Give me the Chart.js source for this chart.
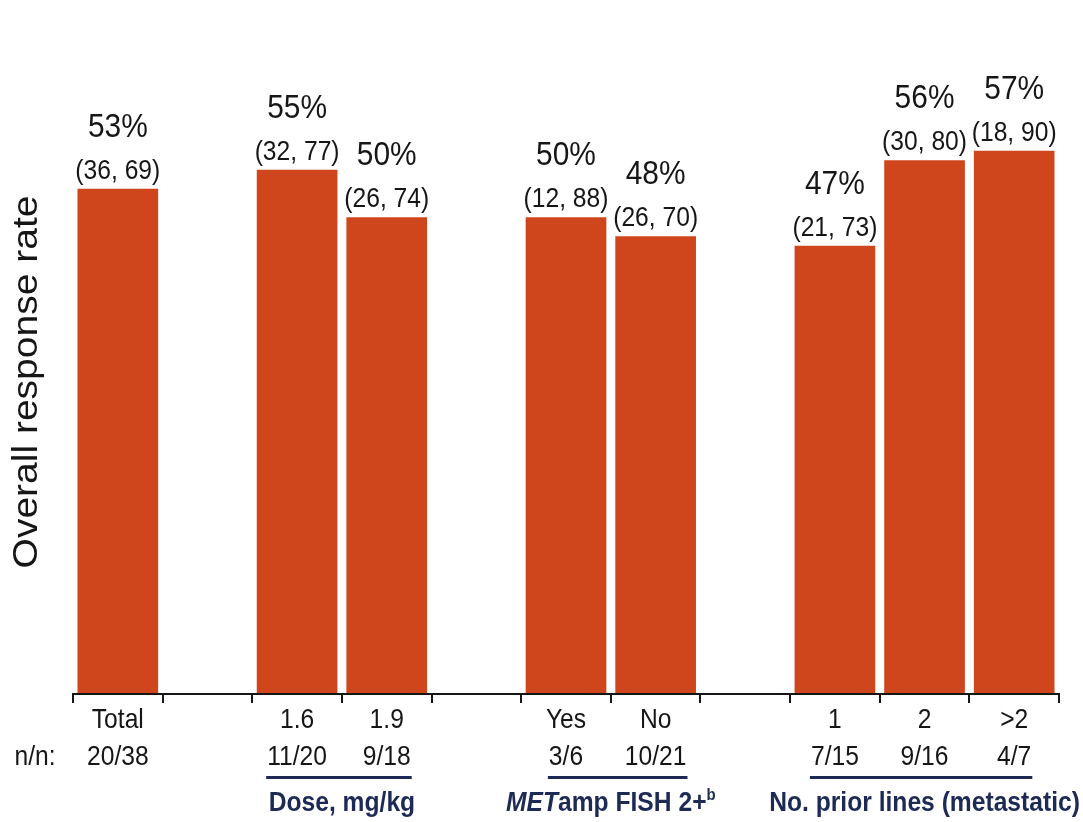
<!DOCTYPE html>
<html>
<head>
<meta charset="utf-8">
<script src="https://cdn.jsdelivr.net/npm/chart.js@4/dist/chart.umd.min.js"></script>
<style>
  html, body { margin: 0; padding: 0; background: #ffffff; }
  #wrap { width: 1083px; height: 822px; position: relative; }
</style>
</head>
<body>
<div id="wrap"><canvas id="orr" width="1083" height="822"></canvas></div>
<script>
// Subgroup categories; empty strings leave a blank slot between groups
const categories = ['Total', '', '1.6', '1.9', '', 'Yes', 'No', '', '1', '2', '>2'];
// Overall response rate, %
const responseRate = [53, null, 55, 50, null, 50, 48, null, 47, 56, 57];
// 95% CI bounds
const ciLow  = [36, null, 32, 26, null, 12, 26, null, 21, 30, 18];
const ciHigh = [69, null, 77, 74, null, 88, 70, null, 73, 80, 90];
// Responders / evaluable patients
const nLabels = ['20/38', '', '11/20', '9/18', '', '3/6', '10/21', '', '7/15', '9/16', '4/7'];
// Group captions under the axis (first / last category index)
const groupFirst = [2, 5, 8];
const groupLast  = [3, 6, 10];
const groupParts = [
  [{ t: 'Dose, mg/kg', style: 'bold' }],
  [{ t: 'MET', style: 'italic bold' }, { t: 'amp FISH 2+', style: 'bold' }, { t: 'b', style: 'bold', sup: true }],
  [{ t: 'No. prior lines (metastatic)', style: 'bold' }]
];
const yTitle = 'Overall response rate';
const rowLabel = 'n/n:';

const FONT = '"Liberation Sans", Arial, sans-serif';
const HS = 0.88;            // horizontal squeeze applied to all text
const BAR = 'rgb(208, 70, 28)';
const INK = '#161616';
const NAVY = '#1c2a55';

function txt(ctx, s, x, y, font, color, align) {
  ctx.save();
  ctx.translate(x, y);
  ctx.scale(HS, 1);
  ctx.font = font;
  ctx.fillStyle = color;
  ctx.textAlign = align || 'center';
  ctx.textBaseline = 'alphabetic';
  ctx.fillText(s, 0, 0);
  ctx.restore();
}
function width(ctx, s, font) {
  ctx.save();
  ctx.font = font;
  const w = ctx.measureText(s).width * HS;
  ctx.restore();
  return w;
}

const annotate = {
  id: 'annotate',
  afterDraw(chart) {
    const ctx = chart.ctx;
    const xs = chart.scales.x, ys = chart.scales.y;
    const area = chart.chartArea;
    const n = categories.length;
    const slot = (area.right - area.left) / n;

    // axis baseline and slot ticks
    ctx.save();
    ctx.strokeStyle = INK;
    ctx.lineWidth = 2;
    ctx.beginPath();
    ctx.moveTo(area.left, area.bottom + 1);
    ctx.lineTo(area.right, area.bottom + 1);
    for (let i = 0; i <= n; i++) {
      const x = Math.round(area.left + i * slot);
      ctx.moveTo(x, area.bottom);
      ctx.lineTo(x, area.bottom + 10);
    }
    ctx.stroke();
    ctx.restore();

    const pctFont = '34px ' + FONT;
    const ciFont = '28px ' + FONT;
    const catFont = '28px ' + FONT;

    for (let i = 0; i < n; i++) {
      const cx = xs.getPixelForValue(i);
      if (responseRate[i] != null) {
        const top = ys.getPixelForValue(responseRate[i]);
        txt(ctx, responseRate[i] + '%', cx, top - 52, pctFont, INK);
        txt(ctx, '(' + ciLow[i] + ', ' + ciHigh[i] + ')', cx, top - 10, ciFont, INK);
      }
      if (categories[i]) txt(ctx, categories[i], cx, 728, catFont, INK);
      if (nLabels[i]) txt(ctx, nLabels[i], cx, 765, catFont, INK);
    }
    txt(ctx, rowLabel, 35, 765, catFont, INK);

    // group underlines and captions
    const gFont = 28;
    for (let g = 0; g < groupFirst.length; g++) {
      const a = groupFirst[g], b = groupLast[g];
      const xa = xs.getPixelForValue(a), xb = xs.getPixelForValue(b);
      const l = xa - width(ctx, nLabels[a], catFont) / 2 - 1;
      const r = xb + width(ctx, nLabels[b], catFont) / 2 + 1;
      ctx.save();
      ctx.strokeStyle = NAVY;
      ctx.lineWidth = 3;
      ctx.beginPath();
      ctx.moveTo(l, 777.5);
      ctx.lineTo(r, 777.5);
      ctx.stroke();
      ctx.restore();

      const parts = groupParts[g].map(p => {
        const f = p.style + ' ' + (p.sup ? 17 : gFont) + 'px ' + FONT;
        return { t: p.t, f, sup: p.sup, w: width(ctx, p.t, f) };
      });
      const total = parts.reduce((s, p) => s + p.w, 0);
      let x = (xa + xb) / 2 - total / 2;
      parts.forEach(p => {
        txt(ctx, p.t, x, p.sup ? 800 : 811, p.f, NAVY, 'left');
        x += p.w;
      });
    }

    // rotated y-axis title
    ctx.save();
    ctx.scale(HS, 1);
    ctx.translate(37 / HS, 382);
    ctx.rotate(-Math.PI / 2);
    ctx.font = '39px ' + FONT;
    ctx.fillStyle = INK;
    ctx.textAlign = 'center';
    ctx.textBaseline = 'alphabetic';
    ctx.fillText(yTitle, 0, 0);
    ctx.restore();
  }
};

new Chart(document.getElementById('orr'), {
  type: 'bar',
  data: {
    labels: categories,
    datasets: [{
      data: responseRate,
      backgroundColor: BAR,
      borderWidth: 0,
      barPercentage: 0.9,
      categoryPercentage: 1.0
    }]
  },
  options: {
    responsive: false,
    devicePixelRatio: 1,
    animation: false,
    layout: { padding: { left: 73, right: 24, top: 27, bottom: 129 } },
    plugins: { legend: { display: false }, tooltip: { enabled: false } },
    scales: {
      x: { display: false },
      y: { display: false, min: 0, max: 70 }
    }
  },
  plugins: [annotate]
});
</script>
</body>
</html>
